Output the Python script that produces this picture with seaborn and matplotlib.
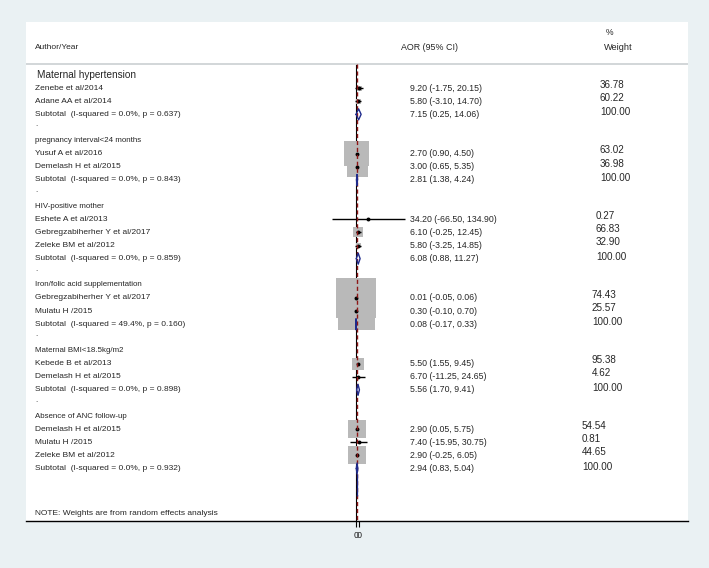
import numpy as np
import pandas as pd
import matplotlib
matplotlib.use("Agg")
import matplotlib.pyplot as plt
import matplotlib.transforms as mtransforms
import seaborn as sns

# Subgroups
groups = ["Maternal hypertension", "pregnancy interval<24 months", "HIV-positive mother",
          "Iron/folic acid supplementation", "Maternal BMI<18.5kg/m2", "Absence of ANC follow-up"]

# Studies (group index, name, AOR, 95% CI, % weight)
study_group = [0, 0, 1, 1, 2, 2, 2, 3, 3, 4, 4, 5, 5, 5]
study_names = ["Zenebe et al/2014", "Adane AA et al/2014",
               "Yusuf A et al/2016", "Demelash H et al/2015",
               "Eshete A et al/2013", "Gebregzabiherher Y et al/2017", "Zeleke BM et al/2012",
               "Gebregzabiherher Y et al/2017", "Mulatu H /2015",
               "Kebede B et al/2013", "Demelash H et al/2015",
               "Demelash H et al/2015", "Mulatu H /2015", "Zeleke BM et al/2012"]
study_aor = [9.20, 5.80, 2.70, 3.00, 34.20, 6.10, 5.80, 0.01, 0.30, 5.50, 6.70, 2.90, 7.40, 2.90]
study_lo = [-1.75, -3.10, 0.90, 0.65, -66.50, -0.25, -3.25, -0.05, -0.10, 1.55, -11.25, 0.05, -15.95, -0.25]
study_hi = [20.15, 14.70, 4.50, 5.35, 134.90, 12.45, 14.85, 0.06, 0.70, 9.45, 24.65, 5.75, 30.75, 6.05]
study_weight = [36.78, 60.22, 63.02, 36.98, 0.27, 66.83, 32.90, 74.43, 25.57, 95.38, 4.62, 54.54, 0.81, 44.65]

# Subtotals
sub_aor = [7.15, 2.81, 6.08, 0.08, 5.56, 2.94]
sub_lo = [0.25, 1.38, 0.88, -0.17, 1.70, 0.83]
sub_hi = [14.06, 4.24, 11.27, 0.33, 9.41, 5.04]
sub_isq = [0.0, 0.0, 0.0, 49.4, 0.0, 0.0]
sub_p = [0.637, 0.843, 0.859, 0.160, 0.898, 0.932]

overall_line = 2.0
tick_values = [0, 9]
tick_labels = ["0", "0"]

# box side (px) of the gray weight squares
box_px = [5, 5, 25, 21, 1, 10, 5, 40, 37, 12, 2, 18, 2, 18]
# x pixel of the weight column, per subgroup
weight_x = [600, 600, 596, 592, 592, 582]

# row layout
head_row, study_row, sub_row, dot_row = [], [], [], []
r = 0
for g in range(len(groups)):
    head_row.append(r)
    r += 1
    for gi in study_group:
        if gi == g:
            study_row.append(r)
            r += 1
    sub_row.append(r)
    r += 1
    if g < len(groups) - 1:
        dot_row.append(r)
        r += 1

df = pd.DataFrame({"group": study_group, "name": study_names, "aor": study_aor,
                   "lo": study_lo, "hi": study_hi, "weight": study_weight, "row": study_row})

sns.set_style("white")
plt.rcParams["font.family"] = ["Liberation Sans", "DejaVu Sans"]

bg = "#eaf1f3"
navy = "#1f2b8c"
fig = plt.figure(figsize=(7.09, 5.68), dpi=100, facecolor=bg)
ax = fig.add_axes([26 / 709, 47 / 568, 662 / 709, 499 / 568])
ax.set_facecolor("white")

# x scale: 0 at 356 px, 0.364 px per unit
ax.set_xlim((26 - 356) / 0.364, (688 - 356) / 0.364)
ax.set_ylim(34, -4.04)

def px(x):
    return (x - 26) / 662

tr = mtransforms.blended_transform_factory(ax.transAxes, ax.transData)

# header
ax.text(px(35), -2.06, "Author/Year", transform=tr, fontsize=6.0, va="center")
ax.text(px(401), -2.06, "AOR (95% CI)", transform=tr, fontsize=6.4, va="center")
ax.text(px(606), -3.27, "%", transform=tr, fontsize=6.2, va="center")
ax.text(px(604), -2.06, "Weight", transform=tr, fontsize=6.6, va="center")
ax.plot([0, 1], [-0.84, -0.84], transform=tr, color="#cfd3d5", lw=1.3)

# reference lines
ax.vlines(0, -0.84, 34, color="black", lw=0.8, zorder=1)
ax.vlines(overall_line, -0.84, 34, color="#8e1616", lw=1.0, linestyles=(0, (3, 2)), zorder=5)

# weight boxes, CI lines, point estimates
ax.scatter(df["aor"], df["row"], marker="s", s=(np.array(box_px) * 0.72) ** 2,
           color="#b9b9b9", linewidths=0, zorder=2)
ax.hlines(df["row"], df["lo"], df["hi"], color="black", lw=1.0, zorder=3)
sns.scatterplot(data=df, x="aor", y="row", color="black", s=8, linewidth=0,
                ax=ax, zorder=4, legend=False)

# subtotal diamonds
for g in range(len(groups)):
    y = sub_row[g]
    ax.plot([sub_lo[g], sub_aor[g], sub_hi[g], sub_aor[g], sub_lo[g]],
            [y, y - 0.42, y, y + 0.42, y], color=navy, lw=1.0, zorder=6)
ax.vlines(sub_aor[-1], sub_row[-1] + 0.4, sub_row[-1] + 2.1, color=navy, lw=0.9, zorder=6)

# text columns
for g in range(len(groups)):
    if g == 0:
        ax.text(px(37), head_row[g], groups[g], transform=tr, fontsize=7.2, va="center")
    else:
        ax.text(px(35), head_row[g], groups[g], transform=tr, fontsize=5.7, va="center")
    ax.text(px(35), sub_row[g], "Subtotal  (I-squared = %.1f%%, p = %.3f)" % (sub_isq[g], sub_p[g]),
            transform=tr, fontsize=6.0, va="center")
    ax.text(px(410), sub_row[g], "%.2f (%.2f, %.2f)" % (sub_aor[g], sub_lo[g], sub_hi[g]),
            transform=tr, fontsize=6.3, va="center")
    ax.text(px(weight_x[g]), sub_row[g] - 0.15, "100.00", transform=tr, fontsize=7.1, va="center")

for d in dot_row:
    ax.text(px(35), d - 0.2, ".", transform=tr, fontsize=5.8, va="center")

for _, s in df.iterrows():
    ax.text(px(35), s["row"], s["name"], transform=tr, fontsize=6.0, va="center")
    ax.text(px(410), s["row"], "%.2f (%.2f, %.2f)" % (s["aor"], s["lo"], s["hi"]),
            transform=tr, fontsize=6.3, va="center")
    ax.text(px(weight_x[int(s["group"])]), s["row"] - 0.25, "%.2f" % s["weight"],
            transform=tr, fontsize=7.1, va="center")

ax.text(px(35), 33.4, "NOTE: Weights are from random effects analysis", transform=tr,
        fontsize=6.0, va="center")

# axes
for side in ["top", "left", "right"]:
    ax.spines[side].set_visible(False)
ax.spines["bottom"].set_color("black")
ax.spines["bottom"].set_linewidth(1.0)
ax.set_yticks([])
ax.set_xticks(tick_values)
ax.set_xticklabels(tick_labels, fontsize=6.5)
ax.tick_params(axis="x", length=4.5, width=0.8, color="black", pad=3, bottom=True)
ax.set_xlabel("")
ax.set_ylabel("")

fig.savefig("out.png", dpi=100, facecolor=bg)
